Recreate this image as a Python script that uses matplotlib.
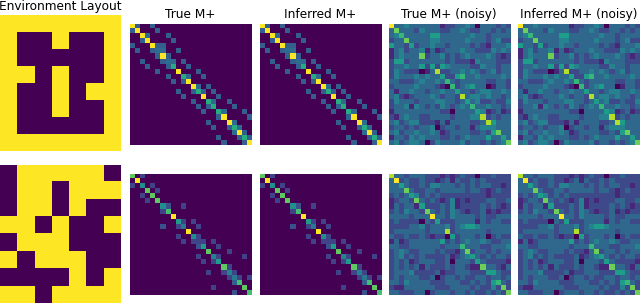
import matplotlib
matplotlib.use("Agg")
import matplotlib.pyplot as plt
import numpy as np

titles = ["Environment Layout", "True M+", "Inferred M+", "True M+ (noisy)", "Inferred M+ (noisy)"]

env_top = ["1111111", "1001001", "1000001", "1101001", "1001011", "1001001", "1000001", "1111111"]
env_bottom = ["0111110", "0110111", "0110100", "1101001", "0111000", "1011100", "0000101", "1101111"]

# row -> {column: value}
clean_top = [
    {0: 1, 1: .3, 4: .3}, {0: .3, 1: 1, 5: .3}, {2: 1, 3: .35, 7: .3}, {2: .3, 3: 1, 8: .3},
    {0: .3, 4: 1, 5: .3, 6: .3}, {1: .3, 4: .3, 5: .35, 6: .35, 9: .3}, {5: .3, 6: 1, 7: .3},
    {2: .3, 6: .3, 7: .35, 8: .35, 10: .3}, {3: .3, 7: .3, 8: .62, 11: .3}, {5: .3, 9: 1, 13: .3},
    {7: .3, 10: .62, 11: .35, 14: .3}, {8: .3, 10: .3, 11: 1}, {12: 1, 13: .35, 15: .3},
    {9: .3, 12: .3, 13: .62, 14: .3, 16: .3}, {10: .3, 14: 1, 17: .3}, {12: .3, 15: .62, 16: .35, 19: .3},
    {13: .3, 15: .3, 16: .62, 20: .3}, {14: .3, 17: .62, 18: .35, 22: .3}, {17: .3, 18: 1, 23: .3},
    {15: .3, 19: 1, 20: .35}, {16: .3, 19: .3, 20: .62, 21: .35}, {20: .35, 21: 1, 22: .3},
    {17: .3, 21: .3, 22: .62, 23: .3}, {18: .3, 22: .3, 23: 1},
]
clean_bottom = [
    {0: .75, 2: .2}, {1: 1}, {0: .2, 2: .5, 4: .2}, {3: .75, 5: .2}, {2: .2, 4: .75}, {3: .2, 5: .75},
    {6: .5, 7: .25, 10: .2}, {6: .2, 7: .7}, {8: 1}, {9: .55, 10: .2, 12: .2},
    {6: .25, 9: .2, 10: .4, 13: .2}, {11: 1}, {9: .2, 12: .5, 13: .2},
    {10: .2, 12: .2, 13: .2, 14: .2, 16: .2}, {13: .25, 14: .55, 17: .2}, {15: .75, 19: .2},
    {13: .2, 16: .45, 17: .2, 22: .2}, {14: .2, 16: .2, 17: .55}, {18: .75, 19: .2},
    {15: .2, 18: .2, 19: .45, 20: .2}, {19: .2, 20: .4, 21: .2, 23: .2}, {20: .3, 21: .7},
    {16: .2, 22: .75}, {20: .25, 23: .7},
]

# one digit per cell, 0 dark to 9 yellow
noisy_top = [
    "933433 333312 233430 333232", "373332 433322 334322 332323", "346333 335533 333343 323333",
    "233733 334433 333433 323422", "533252 334332 333323 213334", "134233 413123 334332 224343",
    "134333 723342 323433 343212", "255233 333332 322214 333222", "233433 525254 333322 433233",
    "243222 013822 334343 234233", "243334 343352 256334 333343", "332223 433436 323333 322332",
    "233334 333210 623453 301332", "313343 323343 353323 443343", "342123 334323 328344 343323",
    "243332 333443 323534 223224", "233414 323243 234363 343323", "133333 333322 033335 412312",
    "213433 223333 233344 823233", "342344 222131 333322 385333", "233232 334023 323313 444333",
    "342334 334312 333322 325733", "133243 433322 323433 353353", "342344 302433 334233 232347",
]
noisy_bottom = [
    "833233 322212 123220 223222", "392322 322123 132232 322222", "335322 324433 323232 332212",
    "333732 233233 333233 212322", "232354 232322 222222 212222", "123327 323212 412122 233223",
    "132331 522232 412222 323212", "232433 273232 432122 312122", "333323 339332 433332 322333",
    "232222 032522 233331 323322", "222233 423334 234554 333333", "233333 323338 233333 323333",
    "322322 321220 523332 302322", "131233 333352 323433 432233", "332233 333323 336333 223334",
    "234322 333232 213723 323233", "234232 322223 123453 232332", "232312 333223 033325 322221",
    "232323 132223 233211 733213", "233342 222312 233322 255322", "232333 223023 323223 323323",
    "332433 332223 332232 325632", "211333 333222 333323 224272", "332223 302333 233232 232327",
]


def digits(rows):
    return np.array([[int(c) for c in r.replace(" ", "")] for r in rows], dtype=float) / 9


def sparse(rows):
    m = np.zeros((24, 24))
    for i, row in enumerate(rows):
        for j, v in row.items():
            m[i, j] = v
    return m


W, H = 640, 303
fig = plt.figure(figsize=(W / 100, H / 100), dpi=100)


def panel(x0, x1, y0, y1, data):
    ax = fig.add_axes([x0 / W, 1 - y1 / H, (x1 - x0) / W, (y1 - y0) / H])
    ax.imshow(data, cmap="viridis", vmin=0, vmax=1, aspect="auto", interpolation="nearest")
    ax.axis("off")
    return ax


xs = [(129.5, 251), (259.5, 381), (388.5, 510), (518, 639.5)]
rows_y = [(24, 145.5), (173.5, 295)]
grids = [
    [sparse(clean_top), sparse(clean_top), digits(noisy_top), digits(noisy_top)],
    [sparse(clean_bottom), sparse(clean_bottom), digits(noisy_bottom), digits(noisy_bottom)],
]

panel(0, 121, 15, 150.5, digits([r.replace("1", "9") for r in env_top]))
panel(0, 121, 164.5, 303, digits([r.replace("1", "9") for r in env_bottom]))

for (y0, y1), row in zip(rows_y, grids):
    for (x0, x1), m in zip(xs, row):
        panel(x0, x1, y0, y1, m)

fig.text(60.5 / W, 1 - 10 / H, titles[0], ha="center", va="baseline", fontsize=8.7)
for (x0, x1), t in zip(xs, titles[1:]):
    fig.text((x0 + x1) / 2 / W, 1 - 18 / H, t, ha="center", va="baseline", fontsize=8.7)

fig.savefig("out.png", dpi=100)
